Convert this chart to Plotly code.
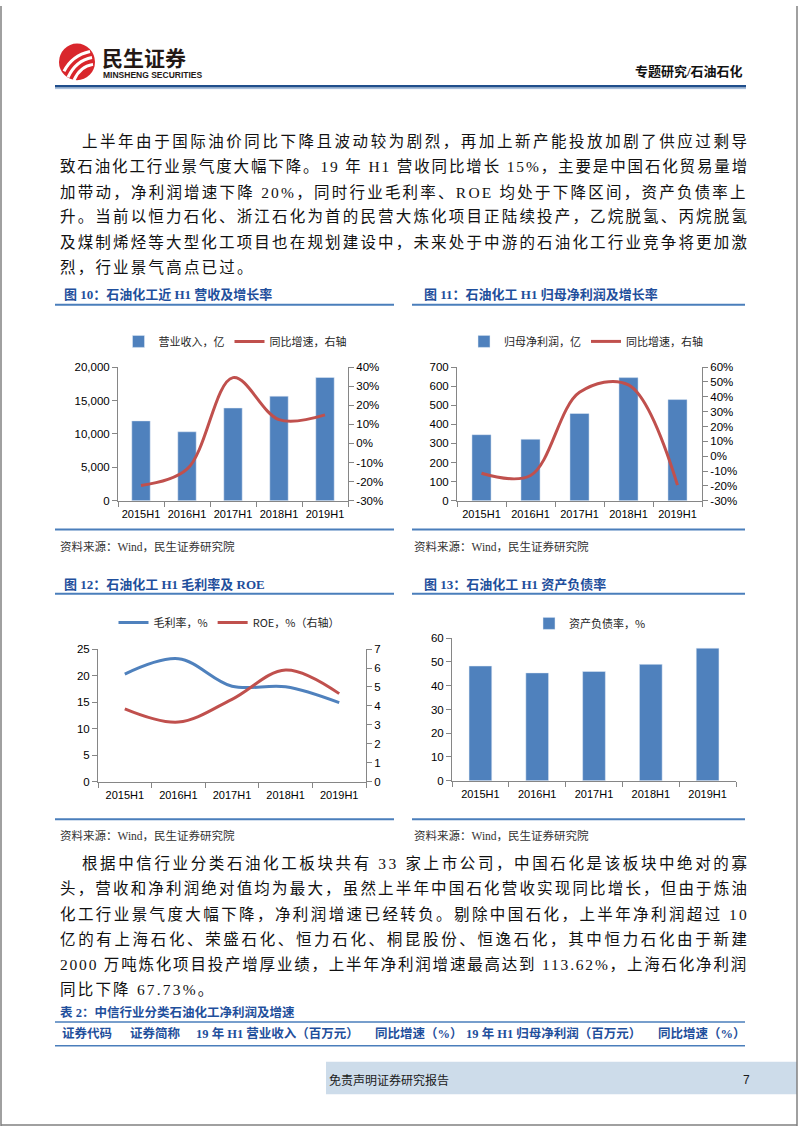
import plotly.graph_objects as go

W, H = 802, 1133


def fx(p):
    return p / W


def fy(p):
    return 1 - p / H


# ---------------- data ----------------
categories = ["2015H1", "2016H1", "2017H1", "2018H1", "2019H1"]
revenue = [11950, 10320, 13880, 15650, 18450]          # 营业收入，亿
revenue_yoy = [-22.0, -13.5, 34.5, 12.5, 15.0]          # 同比增速 %
net_profit = [346, 322, 457, 645, 530]                  # 归母净利润，亿
net_profit_yoy = [-11.5, -13.0, 43.0, 48.0, -19.5]      # 同比增速 %
gross_margin = [20.3, 23.2, 18.0, 17.9, 14.9]           # 毛利率 %
roe = [3.85, 3.15, 4.35, 5.9, 4.65]                     # ROE %
debt_ratio = [48.3, 45.4, 46.0, 49.0, 55.8]             # 资产负债率 %

rev_ticks = [0, 5000, 10000, 15000, 20000]
rev_pct_ticks = [-30, -20, -10, 0, 10, 20, 30, 40]
rev_pct_labels = ["-30%", "-20%", "-10%", "0%", "10%", "20%", "30%", "40%"]
np_ticks = [0, 100, 200, 300, 400, 500, 600, 700]
np_pct_ticks = [-30, -20, -10, 0, 10, 20, 30, 40, 50, 60]
np_pct_labels = ["-30%", "-20%", "-10%", "0%", "10%", "20%", "30%", "40%", "50%", "60%"]
gm_ticks = [0, 5, 10, 15, 20, 25]
roe_ticks = [0, 1, 2, 3, 4, 5, 6, 7]
debt_ticks = [0, 10, 20, 30, 40, 50, 60]

# ---------------- style ----------------
BLUE = "#4f81bd"
RED = "#c0504d"
AX = "#868686"
TITLE_C = "#1f4f9c"
LINE_C = "#4a7ebb"
TICKF = dict(family="Liberation Sans, Arial, sans-serif", size=11.5, color="#000000")
XTICKF = dict(family="Liberation Sans, Arial, sans-serif", size=11, color="#000000")
LEGF = dict(family="Noto Sans CJK SC, sans-serif", size=11, color="#262626")
BODYF = "Liberation Serif, Noto Sans CJK SC, serif"
CJK = "Noto Sans CJK SC, sans-serif"

fig = go.Figure()

# Fig 10
fig.add_trace(go.Bar(x=categories, y=revenue, name="营业收入，亿", marker_color=BLUE,
                     width=0.4, xaxis="x", yaxis="y", legend="legend"))
fig.add_trace(go.Scatter(x=categories, y=revenue_yoy, name="同比增速，右轴", mode="lines",
                         line=dict(color=RED, width=3, shape="spline", smoothing=1.0),
                         xaxis="x", yaxis="y2", legend="legend"))
# Fig 11
fig.add_trace(go.Bar(x=categories, y=net_profit, name="归母净利润，亿", marker_color=BLUE,
                     width=0.39, xaxis="x2", yaxis="y3", legend="legend2"))
fig.add_trace(go.Scatter(x=categories, y=net_profit_yoy, name="同比增速，右轴", mode="lines",
                         line=dict(color=RED, width=3, shape="spline", smoothing=1.0),
                         xaxis="x2", yaxis="y4", legend="legend2"))
# Fig 12
fig.add_trace(go.Scatter(x=categories, y=gross_margin, name="毛利率，%", mode="lines",
                         line=dict(color=BLUE, width=3, shape="spline", smoothing=1.0),
                         xaxis="x3", yaxis="y5", legend="legend3"))
fig.add_trace(go.Scatter(x=categories, y=roe, name="ROE，%（右轴）", mode="lines",
                         line=dict(color=RED, width=3, shape="spline", smoothing=1.0),
                         xaxis="x3", yaxis="y6", legend="legend3"))
# Fig 13
fig.add_trace(go.Bar(x=categories, y=debt_ratio, name="资产负债率，%", marker_color=BLUE,
                     width=0.4, xaxis="x4", yaxis="y7", legend="legend4"))

common = dict(showline=True, linecolor=AX, linewidth=1, ticks="outside", tickcolor=AX,
              ticklen=5, showgrid=False, zeroline=False, tickfont=TICKF, fixedrange=True)


def xax(d0, d1, anchor):
    return dict(common, domain=[fx(d0), fx(d1)], anchor=anchor, type="category",
                range=[-0.5, 4.5], tickson="boundaries", tickangle=0, tickfont=XTICKF,
                ticklabelstandoff=3)


layout = dict(
    width=W, height=H, margin=dict(l=0, r=0, t=0, b=0),
    paper_bgcolor="white", plot_bgcolor="white", showlegend=True,
    xaxis=xax(118, 348, "y"),
    yaxis=dict(common, domain=[fy(500), fy(365)], anchor="x", range=[0, 20000],
               tickvals=rev_ticks, tickformat=","),
    yaxis2=dict(common, overlaying="y", side="right", anchor="x", range=[-30, 40],
                tickvals=rev_pct_ticks, ticktext=rev_pct_labels),
    xaxis2=xax(457, 702, "y3"),
    yaxis3=dict(common, domain=[fy(500), fy(365)], anchor="x2", range=[0, 700],
                tickvals=np_ticks),
    yaxis4=dict(common, overlaying="y3", side="right", anchor="x2", range=[-30, 60],
                tickvals=np_pct_ticks, ticktext=np_pct_labels),
    xaxis3=xax(98, 366, "y5"),
    yaxis5=dict(common, domain=[fy(784), fy(650)], anchor="x3", range=[0, 25],
                tickvals=gm_ticks),
    yaxis6=dict(common, overlaying="y5", side="right", anchor="x3", range=[0, 7],
                tickvals=roe_ticks),
    xaxis4=xax(452, 736, "y7"),
    yaxis7=dict(common, domain=[fy(783), fy(639)], anchor="x4", range=[0, 60],
                tickvals=debt_ticks),
)


def leg(cx, cy):
    return dict(x=fx(cx), y=fy(cy), xanchor="center", yanchor="middle", orientation="h",
                font=LEGF, bgcolor="rgba(0,0,0,0)", itemwidth=30, traceorder="normal")


layout["legend"] = leg(235, 339)
layout["legend2"] = leg(586, 339)
layout["legend3"] = leg(229, 623)
layout["legend4"] = leg(590, 624)
fig.update_layout(**layout)

# ---------------- text ----------------
ann = []


def text(x, y, s, size=12, family=CJK, color="#000000", anchor="left", bold=False):
    if bold:
        s = "<b>" + s + "</b>"
    ann.append(dict(x=fx(x), y=fy(y), xref="paper", yref="paper", text=s, showarrow=False,
                    xanchor=anchor, yanchor="middle",
                    font=dict(family=family, size=size, color=color)))


def est_width(s, size):
    w = 0.0
    for ch in s:
        o = ord(ch)
        if o >= 0x2E80:
            w += size
        elif ch == " ":
            w += 0.25 * size
        elif ch.isdigit():
            w += 0.5 * size
        elif ch in ".,":
            w += 0.25 * size
        elif ch == "%":
            w += 0.833 * size
        elif ch.isupper():
            w += 0.7 * size
        else:
            w += 0.45 * size
    return w


BODY_SIZE = 15.5


def body_line(x, y, s, justify=True, right=745):
    if justify:
        sp = (right - x - est_width(s, BODY_SIZE)) / max(len(s) - 1, 1)
    else:
        sp = 2.2
    t = '<span style="letter-spacing:%.2fpx">%s</span>' % (sp, s)
    ann.append(dict(x=fx(x), y=fy(y), xref="paper", yref="paper", text=t, showarrow=False,
                    xanchor="left", yanchor="middle",
                    font=dict(family=BODYF, size=BODY_SIZE, color="#111111")))


para1 = [
    "上半年由于国际油价同比下降且波动较为剧烈，再加上新产能投放加剧了供应过剩导",
    "致石油化工行业景气度大幅下降。19 年 H1 营收同比增长 15%，主要是中国石化贸易量增",
    "加带动，净利润增速下降 20%，同时行业毛利率、ROE 均处于下降区间，资产负债率上",
    "升。当前以恒力石化、浙江石化为首的民营大炼化项目正陆续投产，乙烷脱氢、丙烷脱氢",
    "及煤制烯烃等大型化工项目也在规划建设中，未来处于中游的石油化工行业竞争将更加激",
    "烈，行业景气高点已过。",
]
para2 = [
    "根据中信行业分类石油化工板块共有 33 家上市公司，中国石化是该板块中绝对的寡",
    "头，营收和净利润绝对值均为最大，虽然上半年中国石化营收实现同比增长，但由于炼油",
    "化工行业景气度大幅下降，净利润增速已经转负。剔除中国石化，上半年净利润超过 10",
    "亿的有上海石化、荣盛石化、恒力石化、桐昆股份、恒逸石化，其中恒力石化由于新建",
    "2000 万吨炼化项目投产增厚业绩，上半年净利润增速最高达到 113.62%，上海石化净利润",
    "同比下降 67.73%。",
]
p1_y = [136, 162, 188, 213, 239, 264]
p2_y = [866, 892, 918, 943, 969, 994]
for i, (s, y) in enumerate(zip(para1, p1_y)):
    body_line(80 if i == 0 else 58, y, s, justify=(i < len(para1) - 1))
for i, (s, y) in enumerate(zip(para2, p2_y)):
    body_line(80 if i == 0 else 58, y, s, justify=(i < len(para2) - 1))

# chart titles
TF = "Liberation Serif, Noto Sans CJK SC, serif"
text(62, 292, "图 10：石油化工近 H1 营收及增长率", 13, TF, TITLE_C, bold=True)
text(422, 292, "图 11：石油化工 H1 归母净利润及增长率", 13, TF, TITLE_C, bold=True)
text(62, 585, "图 12：石油化工 H1 毛利率及 ROE", 13, TF, TITLE_C, bold=True)
text(422, 585, "图 13：石油化工 H1 资产负债率", 13, TF, TITLE_C, bold=True)

# sources
SRC = "资料来源：Wind，民生证券研究院"
text(58, 546, SRC, 11.5, TF, "#333333")
text(412, 546, SRC, 11.5, TF, "#333333")
text(58, 838, SRC, 11.5, TF, "#333333")
text(412, 838, SRC, 11.5, TF, "#333333")

# table
text(58, 1017, "表 2：中信行业分类石油化工净利润及增速", 12.5, TF, TITLE_C, bold=True)
headers = ["证券代码", "证券简称", "19 年 H1 营业收入（百万元）", "同比增速（%）",
           "19 年 H1 归母净利润（百万元）", "同比增速（%）"]
hx = [60, 128, 194, 373, 464, 656]
for x, h in zip(hx, headers):
    text(x, 1039, h, 12.5, TF, TITLE_C, bold=True)

# header
text(100, 52, "民生证券", 21, CJK, "#231815", bold=True)
text(101, 70, "MINSHENG SECURITIES", 8.5, "Liberation Sans Narrow, Liberation Sans, sans-serif",
     "#231815", bold=True)
text(745, 66, "专题研究/石油石化", 13, TF, "#111111", anchor="right", bold=True)

# footer
text(327, 1085, "免责声明证券研究报告", 12, CJK, "#1a1a1a")
text(741, 1085, "7", 12, "Liberation Sans, sans-serif", "#1a1a1a")

# ---------------- shapes ----------------
shapes = []


def hline(x0, x1, y, color, w):
    shapes.append(dict(type="line", xref="paper", yref="paper", x0=fx(x0), x1=fx(x1),
                       y0=fy(y), y1=fy(y), line=dict(color=color, width=w)))


def vline(x, y0, y1, color, w):
    shapes.append(dict(type="line", xref="paper", yref="paper", x0=fx(x), x1=fx(x),
                       y0=fy(y0), y1=fy(y1), line=dict(color=color, width=w)))


# footer box
shapes.append(dict(type="rect", xref="paper", yref="paper", x0=fx(326), x1=fx(797),
                   y0=fy(1100), y1=fy(1067), line=dict(width=0), fillcolor="#cddcea",
                   layer="below"))
# page border
vline(1, 0, 1132, "#808080", 1.5)
vline(797, 0, 1132, "#808080", 1.5)
hline(1, 797, 1131, "#808080", 1.5)
# header line
hline(55, 746, 81, "#1f4e8c", 2.5)
hline(55, 746, 83.5, "#9fb9d8", 1)
# chart title lines
hline(55, 394, 302, LINE_C, 2)
hline(412, 745, 302, LINE_C, 2)
hline(55, 394, 529, LINE_C, 2)
hline(412, 745, 529, LINE_C, 2)
hline(55, 394, 594, LINE_C, 2)
hline(412, 745, 594, LINE_C, 2)
hline(55, 394, 822, LINE_C, 2)
hline(412, 745, 822, LINE_C, 2)
# table lines
hline(55, 745, 1027, LINE_C, 1.5)
hline(55, 745, 1051, LINE_C, 1.5)

# logo
shapes.append(dict(type="circle", xref="paper", yref="paper", x0=fx(59), x1=fx(95),
                   y0=fy(75), y1=fy(38), fillcolor="#d9262c", line=dict(width=0)))
for path in ["M %f,%f Q %f,%f %f,%f" % (fx(64), fy(66), fx(72), fy(50), fx(90), fy(46)),
             "M %f,%f Q %f,%f %f,%f" % (fx(68), fy(72), fx(76), fy(55), fx(92), fy(52)),
             "M %f,%f Q %f,%f %f,%f" % (fx(74), fy(75), fx(80), fy(61), fx(93), fy(59))]:
    shapes.append(dict(type="path", xref="paper", yref="paper", path=path,
                       line=dict(color="white", width=3)))

fig.update_layout(annotations=ann, shapes=shapes)
fig.write_html("out.html")
